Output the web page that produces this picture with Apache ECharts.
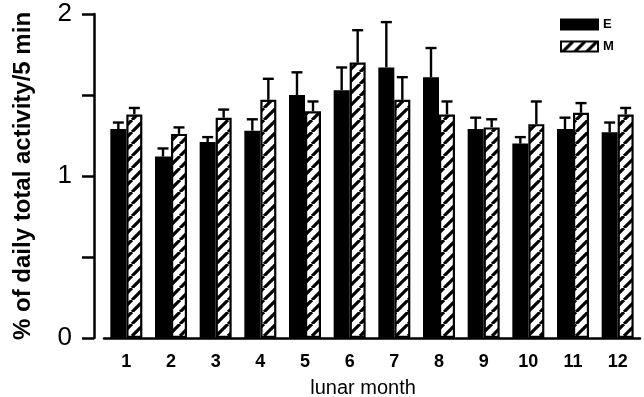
<!DOCTYPE html>
<html>
<head>
<meta charset="utf-8">
<script src="https://cdn.jsdelivr.net/npm/echarts@6/dist/echarts.min.js"></script>
<style>html,body{margin:0;padding:0;background:#fff}#c{width:644px;height:397px}</style>
</head>
<body>
<div id="c"></div>
<script>
const months = ['1','2','3','4','5','6','7','8','9','10','11','12'];
const eValues = [1.29, 1.12, 1.21, 1.28, 1.50, 1.53, 1.67, 1.61, 1.29, 1.20, 1.29, 1.27];
const eUpper  = [1.33, 1.17, 1.24, 1.35, 1.64, 1.67, 1.95, 1.79, 1.36, 1.24, 1.36, 1.33];
const mValues = [1.38, 1.26, 1.36, 1.47, 1.40, 1.70, 1.47, 1.38, 1.30, 1.32, 1.39, 1.38];
const mUpper  = [1.42, 1.30, 1.41, 1.60, 1.46, 1.90, 1.61, 1.46, 1.35, 1.46, 1.45, 1.42];
const yTicks = [0, 1, 2];

function makeHatch() {
  const s = 12;
  const c = document.createElement('canvas');
  c.width = s; c.height = s;
  const ctx = c.getContext('2d');
  ctx.fillStyle = '#fff';
  ctx.fillRect(0, 0, s, s);
  ctx.strokeStyle = '#000';
  ctx.lineWidth = 3.2;
  ctx.beginPath();
  for (let k = -1; k <= 1; k++) {
    ctx.moveTo(k * s, s);
    ctx.lineTo(k * s + s, 0);
  }
  ctx.stroke();
  return c;
}
const hatch = { image: makeHatch(), repeat: 'repeat' };

const FONT = 'Liberation Sans, Arial, sans-serif';
const BW = 16;

function errSeries(vals, ups, dx) {
  return {
    type: 'custom',
    silent: true,
    z: 1,
    data: vals.map((v, i) => [i, v, ups[i]]),
    encode: { x: 0, y: [1, 2] },
    renderItem: function (params, api) {
      const b = api.coord([api.value(0), api.value(1)]);
      const t = api.coord([api.value(0), api.value(2)]);
      const x = b[0] + dx;
      const style = { stroke: '#000', lineWidth: 2.4 };
      return {
        type: 'group',
        children: [
          { type: 'line', shape: { x1: x, y1: b[1], x2: x, y2: t[1] }, style: style },
          { type: 'line', shape: { x1: x - 5.5, y1: t[1], x2: x + 5.5, y2: t[1] }, style: style }
        ]
      };
    }
  };
}

const chart = echarts.init(document.getElementById('c'), null, { renderer: 'canvas' });
chart.setOption({
  animation: false,
  backgroundColor: '#fff',
  grid: { left: 104, right: 4, top: 14, bottom: 59, containLabel: false, outerBoundsMode: 'none' },
  legend: {
    data: ['E', 'M'],
    orient: 'vertical',
    left: 555,
    top: 13,
    itemWidth: 37,
    itemHeight: 10,
    itemGap: 9,
    icon: 'rect',
    textStyle: { fontFamily: FONT, fontSize: 13, fontWeight: 'bold', color: '#000' }
  },
  xAxis: {
    type: 'category',
    data: months,
    name: 'lunar month',
    nameLocation: 'middle',
    nameGap: 40,
    nameTextStyle: { fontFamily: FONT, fontSize: 20, color: '#000', padding: [0, 18, 0, 0] },
    axisLine: { lineStyle: { color: '#000', width: 2.5 } },
    axisTick: { show: false },
    axisLabel: { fontFamily: FONT, fontSize: 18, fontWeight: 'bold', color: '#000', margin: 15 }
  },
  yAxis: {
    type: 'value',
    min: 0, max: 2, interval: 0.5,
    offset: 10,
    name: '% of daily total activity/5 min',
    nameLocation: 'middle',
    nameGap: 59,
    nameTextStyle: { fontFamily: FONT, fontSize: 24, fontWeight: 'bold', color: '#000' },
    axisLine: { show: true, lineStyle: { color: '#000', width: 2.5 } },
    axisTick: { show: true, length: 12, lineStyle: { color: '#000', width: 2.5 } },
    splitLine: { show: false },
    axisLabel: {
      fontFamily: FONT, fontSize: 26, color: '#000', margin: 22,
      formatter: function (v) { return yTicks.indexOf(v) >= 0 ? String(v) : ''; }
    }
  },
  series: [
    errSeries(eValues, eUpper, -BW / 2),
    errSeries(mValues, mUpper, BW / 2),
    {
      name: 'E', type: 'bar', data: eValues, barWidth: BW, barGap: '0%', z: 2,
      itemStyle: { color: '#000', borderColor: '#000', borderWidth: 1.5 }
    },
    {
      name: 'M', type: 'bar', data: mValues, barWidth: BW, barGap: '0%', z: 2,
      itemStyle: { color: hatch, borderColor: '#000', borderWidth: 2.2 }
    }
  ]
});
</script>
</body>
</html>
